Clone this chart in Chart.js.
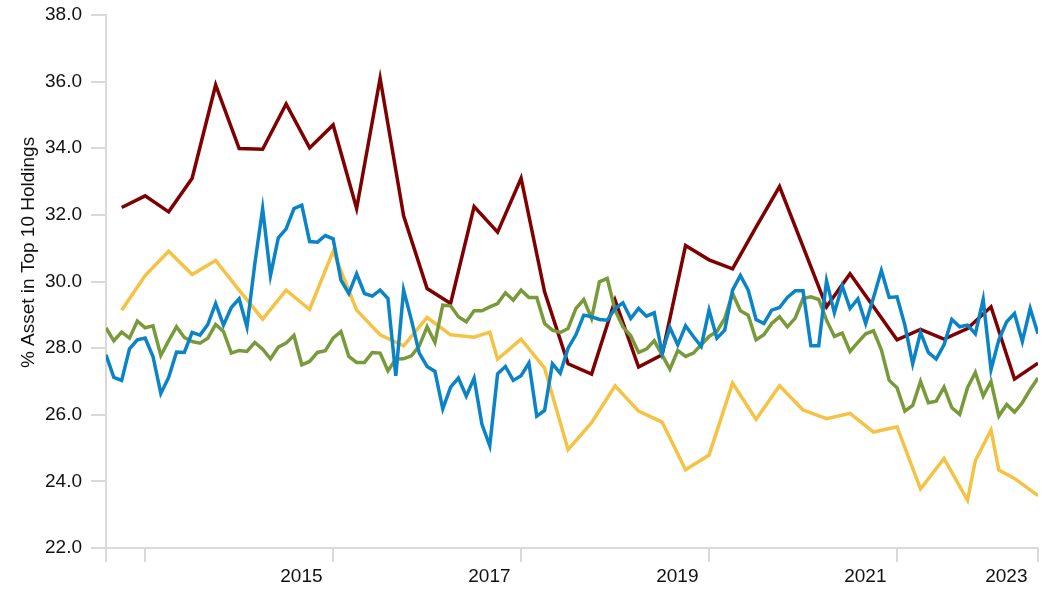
<!DOCTYPE html>
<html>
<head>
<meta charset="utf-8">
<script src="https://cdn.jsdelivr.net/npm/chart.js@4.4.1/dist/chart.umd.min.js"></script>
<style>
  html, body { margin: 0; padding: 0; background: #ffffff; }
  #wrap { width: 1042px; height: 589px; position: relative; }
</style>
</head>
<body>
<div id="wrap"><canvas id="c" width="1042" height="589"></canvas></div>
<script>
// x values are month indices (0 = Jul 2013 ... 119 = Jun 2023)
const tickMonths = [0, 5, 29, 53, 77, 101, 119];
const tickLabels = ['', '', '2015', '2017', '2019', '2021', '2023'];

const blueValues = [
  27.80, 27.12, 27.03, 27.98, 28.25, 28.30, 27.75, 26.64, 27.12, 27.88,
  27.87, 28.47, 28.39, 28.71, 29.34, 28.69, 29.22, 29.48, 28.64, 30.53,
  32.19, 30.18, 31.31, 31.58, 32.19, 32.29, 31.20, 31.18, 31.38, 31.28,
  30.04, 29.64, 30.23, 29.64, 29.56, 29.74, 29.49, 27.17, 29.74, 28.84,
  27.85, 27.45, 27.30, 26.18, 26.83, 27.10, 26.56, 27.10, 25.71, 25.07,
  27.23, 27.45, 27.03, 27.17, 27.55, 25.96, 26.13, 27.53, 27.25, 28.00,
  28.40, 28.99, 28.94, 28.86, 28.84, 29.19, 29.36, 28.89, 29.19, 28.96,
  29.06, 27.85, 28.62, 28.10, 28.67, 28.35, 28.05, 29.14, 28.30, 28.54,
  29.74, 30.18, 29.74, 28.86, 28.74, 29.14, 29.22, 29.52, 29.72, 29.72,
  28.07, 28.07, 30.02, 29.06, 29.87, 29.19, 29.48, 28.74, 29.52, 30.33,
  29.52, 29.54, 28.69, 27.53, 28.47, 27.87, 27.67, 28.10, 28.86, 28.64,
  28.69, 28.43, 29.46, 27.35, 28.25, 28.79, 29.04, 28.20, 29.19, 28.43
];

const greenValues = [
  28.61, 28.22, 28.48, 28.30, 28.81, 28.61, 28.67, 27.78, 28.22, 28.64,
  28.32, 28.20, 28.15, 28.30, 28.71, 28.50, 27.85, 27.93, 27.90, 28.17,
  27.97, 27.68, 28.03, 28.15, 28.38, 27.50, 27.60, 27.87, 27.92, 28.30,
  28.50, 27.75, 27.57, 27.57, 27.87, 27.85, 27.32, 27.67, 27.68, 27.77,
  28.07, 28.64, 28.17, 29.29, 29.27, 28.94, 28.79, 29.12, 29.12, 29.24,
  29.34, 29.66, 29.44, 29.74, 29.52, 29.52, 28.74, 28.54, 28.47, 28.59,
  29.19, 29.46, 28.89, 29.99, 30.09, 29.14, 28.64, 28.37, 27.87, 27.97,
  28.22, 27.80, 27.37, 27.93, 27.75, 27.85, 28.10, 28.35, 28.50, 28.89,
  29.64, 29.12, 28.99, 28.25, 28.40, 28.74, 28.94, 28.64, 28.90, 29.49,
  29.54, 29.46, 28.84, 28.35, 28.45, 27.90, 28.17, 28.43, 28.52, 27.95,
  27.03, 26.81, 26.11, 26.28, 27.00, 26.36, 26.41, 26.83, 26.21, 26.01,
  26.81, 27.27, 26.56, 27.00, 25.96, 26.31, 26.08, 26.36, 26.76, 27.10
];

const redMonths = [
  2, 5, 8, 11, 14, 17, 20, 23, 26, 29,
  32, 35, 38, 41, 44, 47, 50, 53, 56, 59,
  62, 65, 68, 71, 74, 77, 80, 83, 86, 89,
  92, 95, 98, 101, 104, 107, 110, 113, 116, 119
];
const redValues = [
  32.22, 32.57, 32.09, 33.10, 35.90, 33.99, 33.97, 35.33, 34.01, 34.70,
  32.19, 36.10, 31.97, 29.79, 29.34, 32.25, 31.48, 33.10, 29.69, 27.53,
  27.22, 29.44, 27.43, 27.80, 31.08, 30.65, 30.38, 31.63, 32.85, 31.05,
  29.24, 30.23, 29.24, 28.25, 28.56, 28.27, 28.59, 29.24, 27.07, 27.55
];

const yellowMonths = [
  2, 5, 8, 11, 14, 17, 20, 23, 26, 29,
  32, 35, 38, 41, 44, 47, 49, 50,
  53, 56, 59, 62, 65, 68, 71, 74, 77, 80,
  83, 86, 89, 92, 95, 98, 101, 104, 107, 110,
  111, 113, 114, 116, 119
];
const yellowValues = [
  29.14, 30.18, 30.91, 30.21, 30.63, 29.74, 28.87, 29.74, 29.16, 30.91,
  29.14, 28.40, 28.07, 28.92, 28.40, 28.33, 28.48, 27.67,
  28.27, 27.40, 24.95, 25.76, 26.87, 26.11, 25.78, 24.35, 24.79, 26.95,
  25.86, 26.87, 26.14, 25.88, 26.04, 25.48, 25.64, 23.77, 24.69, 23.43,
  24.62, 25.54, 24.34, 24.09, 23.57
];

const seriesNames = ['Series A', 'Series B', 'Series C', 'Series D'];
const seriesColors = ['#0a84c6', '#799a3b', '#7f0000', '#f5c243'];

function monthly(vals) { return vals.map((v, i) => ({ x: i, y: v })); }
function paired(xs, vals) { return xs.map((m, i) => ({ x: m, y: vals[i] })); }

const lineStyle = { borderWidth: 3.5, pointRadius: 0, pointHoverRadius: 0, tension: 0, fill: false };

Chart.defaults.font.family = '"Liberation Sans", Arial, sans-serif';
Chart.defaults.font.size = 19;
Chart.defaults.color = '#111111';

const axisGray = '#d9d9d9';

new Chart(document.getElementById('c'), {
  type: 'line',
  data: {
    datasets: [
      Object.assign({ label: seriesNames[0], data: monthly(blueValues), borderColor: seriesColors[0], backgroundColor: seriesColors[0] }, lineStyle),
      Object.assign({ label: seriesNames[1], data: monthly(greenValues), borderColor: seriesColors[1], backgroundColor: seriesColors[1] }, lineStyle),
      Object.assign({ label: seriesNames[2], data: paired(redMonths, redValues), borderColor: seriesColors[2], backgroundColor: seriesColors[2] }, lineStyle),
      Object.assign({ label: seriesNames[3], data: paired(yellowMonths, yellowValues), borderColor: seriesColors[3], backgroundColor: seriesColors[3] }, lineStyle)
    ]
  },
  options: {
    responsive: false,
    animation: false,
    devicePixelRatio: 1,
    layout: { padding: { left: 0, right: 4, top: 15, bottom: 0 } },
    plugins: { legend: { display: false }, tooltip: { enabled: false } },
    scales: {
      x: {
        type: 'linear',
        min: 0,
        max: 119,
        afterBuildTicks: (scale) => { scale.ticks = tickMonths.map(v => ({ value: v })); },
        afterFit: (scale) => { scale.height = 41; scale.paddingLeft = 0; scale.paddingRight = 0; },
        ticks: {
          autoSkip: false,
          maxRotation: 0,
          minRotation: 0,
          align: 'end',
          padding: 3,
          callback: (value) => {
            const i = tickMonths.indexOf(value);
            return i >= 0 && tickLabels[i] ? tickLabels[i] + '  ' : '';
          }
        },
        grid: { drawOnChartArea: false, drawTicks: true, tickLength: 14, color: axisGray, lineWidth: 2 },
        border: { display: true, color: axisGray, width: 2 }
      },
      y: {
        min: 22,
        max: 38,
        afterFit: (scale) => { scale.width = 106; scale.paddingTop = 0; scale.paddingBottom = 0; },
        ticks: {
          stepSize: 2,
          padding: 9,
          callback: (v) => Number(v).toFixed(1)
        },
        title: {
          display: true,
          text: '\u00a0\u00a0\u00a0\u00a0\u00a0\u00a0\u00a0\u00a0\u00a0\u00a0\u00a0% Asset in Top 10 Holdings',
          font: { size: 19 },
          color: '#111111',
          padding: { top: 17, bottom: 0 }
        },
        grid: { drawOnChartArea: false, drawTicks: true, tickLength: 15, color: axisGray, lineWidth: 2 },
        border: { display: true, color: axisGray, width: 2 }
      }
    }
  }
});
</script>
</body>
</html>
